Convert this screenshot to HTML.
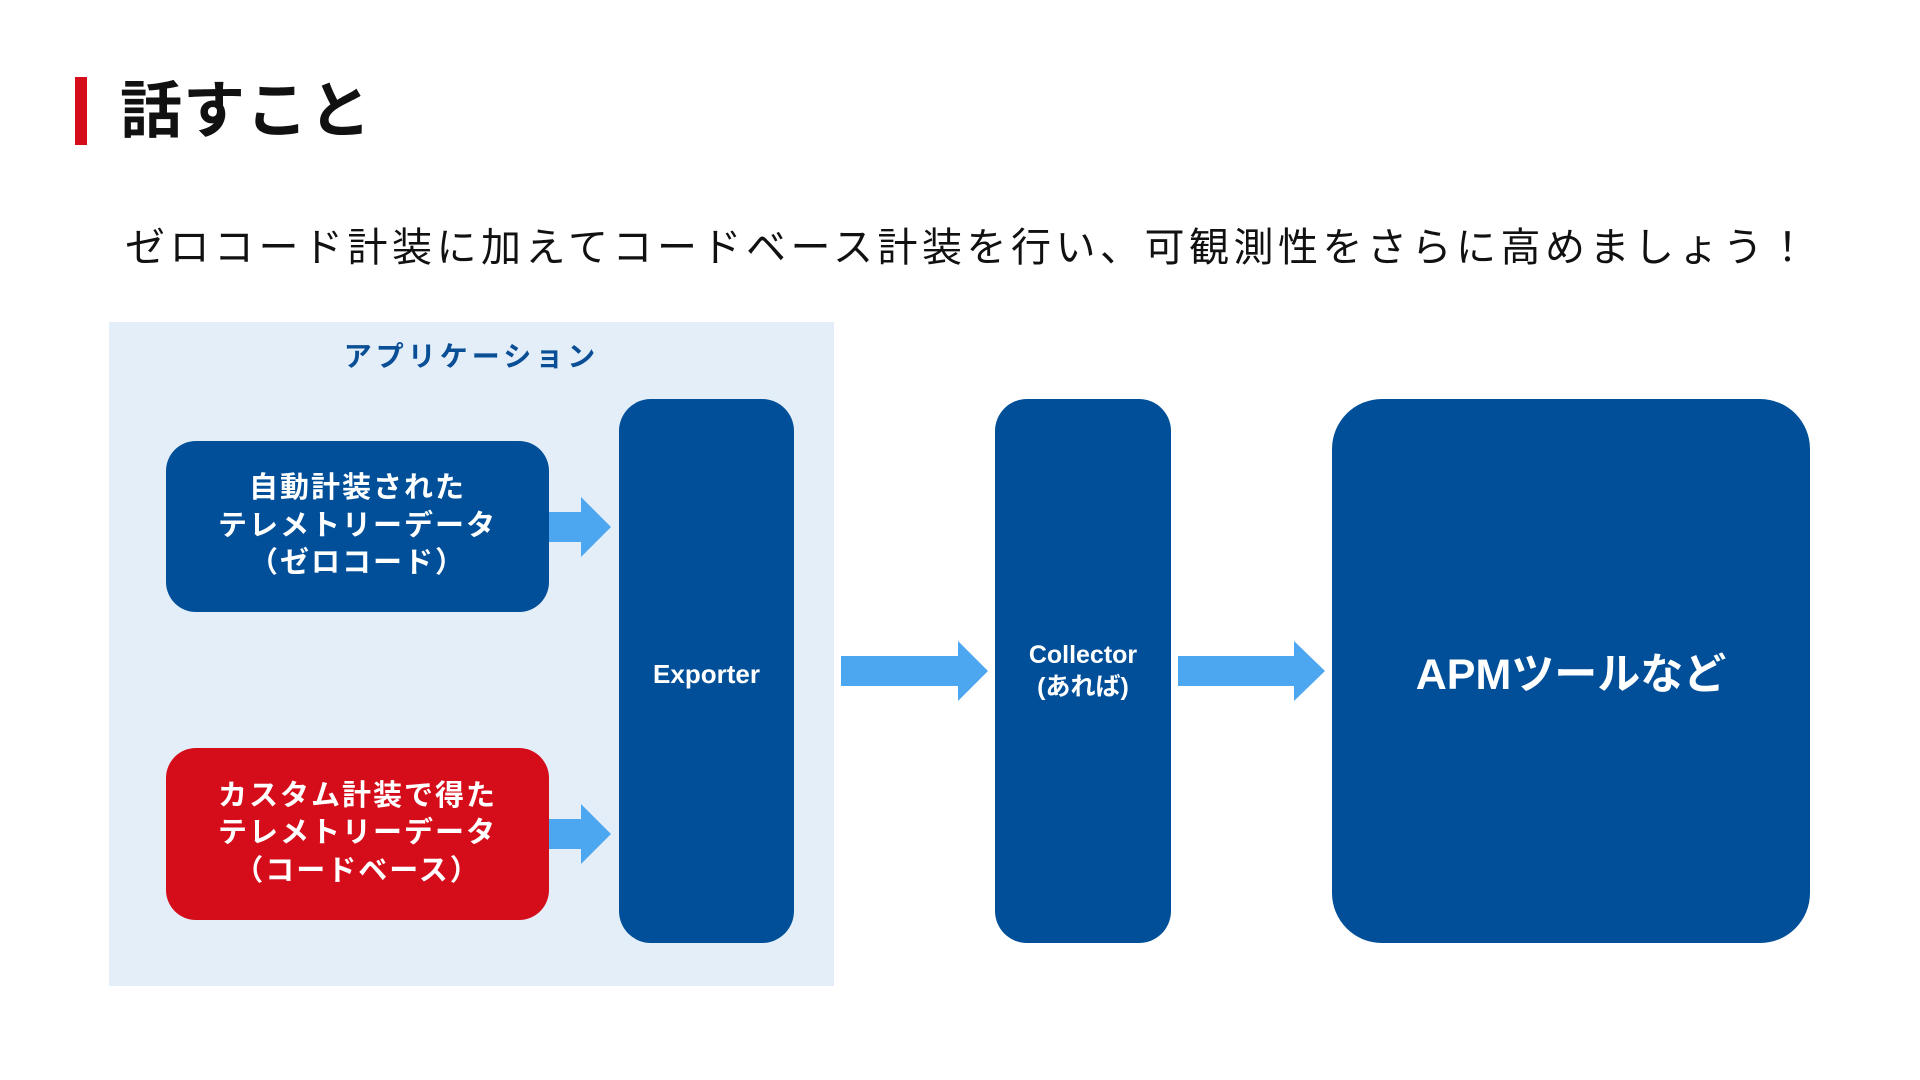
<!DOCTYPE html>
<html><head><meta charset="utf-8"><style>
html,body{margin:0;padding:0;width:1920px;height:1080px;overflow:hidden;background:#fff;position:relative;font-family:"Liberation Sans","Noto Sans CJK JP",sans-serif;}
.a{position:absolute;}
.c{display:flex;align-items:center;justify-content:center;text-align:center;color:#fff;font-weight:bold;}
.blue{background:#004f98;}
</style></head><body>
<div class="a" style="left:75px;top:77px;width:12px;height:68px;background:#d50c1a"></div>
<div class="a" style="left:120px;top:72px;font-size:62px;font-weight:bold;line-height:80px;color:#111;letter-spacing:1px">話すこと</div>
<div class="a" style="left:125px;top:222px;font-size:40px;line-height:52px;color:#111;letter-spacing:4.5px;white-space:nowrap">ゼロコード計装に加えてコードベース計装を行い、可観測性をさらに高めましょう！</div>
<div class="a" style="left:109px;top:322px;width:725px;height:664px;background:#e3eef8"></div>
<div class="a" style="left:109px;top:337px;width:725px;text-align:center;font-size:28px;font-weight:bold;line-height:40px;color:#0a4f96;letter-spacing:4px">アプリケーション</div>
<div class="a c blue" style="left:166px;top:441px;width:383px;height:171px;border-radius:30px;font-size:29px;line-height:37.5px;letter-spacing:2px">自動計装された<br>テレメトリーデータ<br>（ゼロコード）</div>
<div class="a c" style="left:166px;top:748px;width:383px;height:172px;border-radius:30px;background:#d50c1a;font-size:29px;line-height:37.5px;letter-spacing:2px">カスタム計装で得た<br>テレメトリーデータ<br>（コードベース）</div>
<div class="a c blue" style="left:619px;top:399px;width:175px;height:544px;border-radius:32px;font-size:26px;padding-top:6px;box-sizing:border-box">Exporter</div>
<div class="a c blue" style="left:995px;top:399px;width:176px;height:544px;border-radius:32px;font-size:25px;line-height:32px">Collector<br>(あれば)</div>
<div class="a c blue" style="left:1332px;top:399px;width:478px;height:544px;border-radius:50px;font-size:43px">APMツールなど</div>
<svg class="a" style="left:0;top:0" width="1920" height="1080">
<g fill="#4da6f0">
<polygon points="549,512 581,512 581,497 611,527 581,557 581,542 549,542"/>
<polygon points="549,819 581,819 581,804 611,834 581,864 581,849 549,849"/>
<polygon points="841,656 958,656 958,641 988,671 958,701 958,686 841,686"/>
<polygon points="1178,656 1294,656 1294,641 1325,671 1294,701 1294,686 1178,686"/>
</g></svg>
</body></html>
